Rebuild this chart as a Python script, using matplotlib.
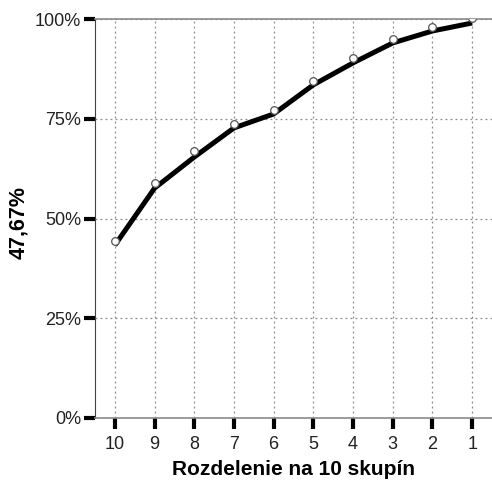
import matplotlib
matplotlib.use('Agg')
import matplotlib.pyplot as plt
import matplotlib.transforms as mtransforms
import numpy as np

plt.rcParams['font.family'] = ['Liberation Sans', 'DejaVu Sans']

groups = ['10', '9', '8', '7', '6', '5', '4', '3', '2', '1']
line_vals = [43.3, 57.6, 65.4, 72.7, 76.2, 83.5, 89.0, 94.0, 97.0, 99.0]
point_vals = [44.4, 58.9, 66.9, 73.7, 77.2, 84.5, 90.2, 95.0, 98.0, 100.2]
y_ticks = [0, 25, 50, 75, 100]

fig = plt.figure(figsize=(4.92, 4.82), dpi=100)
ax = fig.add_axes([95 / 492, 1 - 418 / 482, 397 / 492, 399 / 482])

x = np.arange(len(groups))
ax.plot(x, line_vals, color='black', linewidth=3.6, solid_capstyle='butt', zorder=3)
ax.plot(x, point_vals, linestyle='none', marker='o', markersize=5.5,
        markerfacecolor='white', markeredgecolor='#555555', markeredgewidth=0.9, zorder=4)

ax.set_xlim(-0.5, len(groups) - 0.5)
ax.set_ylim(0, 100)
ax.set_xticks(x)
ax.set_xticklabels(groups)
ax.set_yticks(y_ticks)
ax.set_yticklabels([str(v) + '%' for v in y_ticks])

ax.grid(True, linestyle=(0, (1.5, 2.5)), color='#8a8a8a', linewidth=0.9)
ax.set_axisbelow(True)

ax.spines['right'].set_visible(False)
ax.spines['top'].set_color('#8a8a8a')
ax.spines['bottom'].set_color('#8a8a8a')
ax.spines['left'].set_color('#444444')
ax.spines['top'].set_linewidth(1.2)
ax.spines['bottom'].set_linewidth(1.2)

ax.tick_params(axis='both', direction='out', length=8, width=3, color='black',
               labelsize=13)
ax.tick_params(axis='x', pad=5)
ax.tick_params(axis='y', pad=2)
for lbl in ax.get_xticklabels() + ax.get_yticklabels():
    lbl.set_color('#222222')

ax.set_xlabel('Rozdelenie na 10 skupín', fontsize=15, fontweight='bold', labelpad=5)
ax.set_ylabel('47,67%', fontsize=15.5, fontweight='bold', va='center')
trans = mtransforms.blended_transform_factory(fig.transFigure, ax.transAxes)
ax.yaxis.set_label_coords(19 / 492, 0.49, transform=trans)

plt.savefig('out.png', dpi=100)
